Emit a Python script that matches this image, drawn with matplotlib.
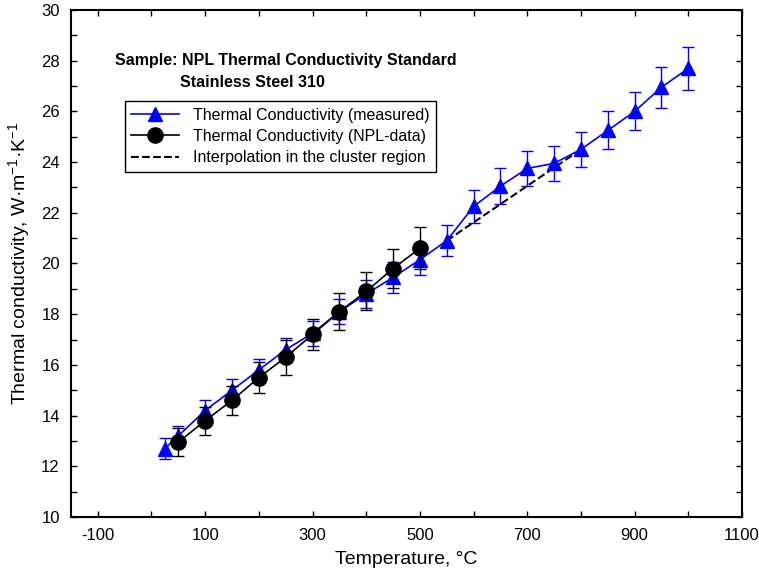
import numpy as np
from matplotlib import pyplot as plt, ticker

plt.rcParams['font.family'] = ['Liberation Sans', 'DejaVu Sans']
plt.rcParams['axes.unicode_minus'] = False

# measured thermal conductivity (blue triangles)
temp_meas = [25, 50, 100, 150, 200, 250, 300, 350, 400, 450, 500,
             550, 600, 650, 700, 750, 800, 850, 900, 950, 1000]
k_meas = [12.7, 13.2, 14.2, 15.0, 15.8, 16.6, 17.25, 18.1, 18.8, 19.45, 20.15,
          20.9, 22.25, 23.05, 23.75, 23.95, 24.5, 25.25, 26.0, 26.95, 27.7]
err_meas = [0.4, 0.4, 0.4, 0.45, 0.45, 0.45, 0.5, 0.5, 0.55, 0.6, 0.6,
            0.6, 0.65, 0.7, 0.7, 0.7, 0.7, 0.75, 0.75, 0.8, 0.85]

# NPL reference data (black circles)
temp_npl = [50, 100, 150, 200, 250, 300, 350, 400, 450, 500]
k_npl = [12.95, 13.8, 14.6, 15.5, 16.3, 17.2, 18.1, 18.9, 19.8, 20.6]
err_npl = [0.55, 0.55, 0.57, 0.62, 0.68, 0.62, 0.72, 0.75, 0.78, 0.82]

# interpolation through the cluster region
temp_interp = [550, 800]
k_interp = [20.9, 24.5]

fig, ax = plt.subplots(figsize=(7.59, 5.75), dpi=100)
plt.subplots_adjust(left=0.0935, right=0.9776, bottom=0.1009, top=0.9826)

ax.errorbar(temp_meas, k_meas, yerr=err_meas, fmt='none', ecolor='blue',
            elinewidth=1.0, capsize=4, capthick=1.0, zorder=3)
l1, = ax.plot(temp_meas, k_meas, color='blue', marker='^', markersize=10, lw=1.2,
              label='Thermal Conductivity (measured)', zorder=3)
ax.errorbar(temp_npl, k_npl, yerr=err_npl, fmt='none', ecolor='black',
            elinewidth=1.0, capsize=4, capthick=1.0, zorder=4)
l2, = ax.plot(temp_npl, k_npl, color='black', marker='o', markersize=11, lw=1.2,
              label='Thermal Conductivity (NPL-data)', zorder=4)
l3, = ax.plot(temp_interp, k_interp, color='black', ls='--', lw=1.5,
              label='Interpolation in the cluster region', zorder=2)

ax.set_xlim(-150, 1100)
ax.set_ylim(10, 30)
ax.xaxis.set_major_locator(ticker.FixedLocator(np.arange(-100, 1101, 200)))
ax.xaxis.set_minor_locator(ticker.FixedLocator(np.arange(0, 1001, 200)))
ax.yaxis.set_major_locator(ticker.MultipleLocator(2))
ax.yaxis.set_minor_locator(ticker.MultipleLocator(1))
ax.tick_params(which='both', direction='in', top=True, right=True, length=4, width=1)
ax.tick_params(labelsize=12, pad=8)
for s in ax.spines.values():
    s.set_linewidth(1.5)

ax.set_xlabel('Temperature, °C', fontsize=14, labelpad=6)
ax.set_ylabel('Thermal conductivity, W·m$^{\\mathregular{-1}}$·K$^{\\mathregular{-1}}$',
              fontsize=14, labelpad=6)

ax.text(0.065, 0.9, 'Sample: NPL Thermal Conductivity Standard', transform=ax.transAxes,
        fontsize=11.5, fontweight='bold', va='center', ha='left')
ax.text(0.163, 0.857, 'Stainless Steel 310', transform=ax.transAxes,
        fontsize=11.5, fontweight='bold', va='center', ha='left')

legend = ax.legend(handles=[l1, l2, l3], loc='upper left', bbox_to_anchor=(0.08, 0.82),
                   fontsize=11.5, fancybox=False, framealpha=1, borderpad=0.4,
                   labelspacing=0.4, handlelength=3, handletextpad=0.9, borderaxespad=0)
legend.get_frame().set_edgecolor('black')
legend.get_frame().set_linewidth(1.0)

plt.savefig('out.png')
